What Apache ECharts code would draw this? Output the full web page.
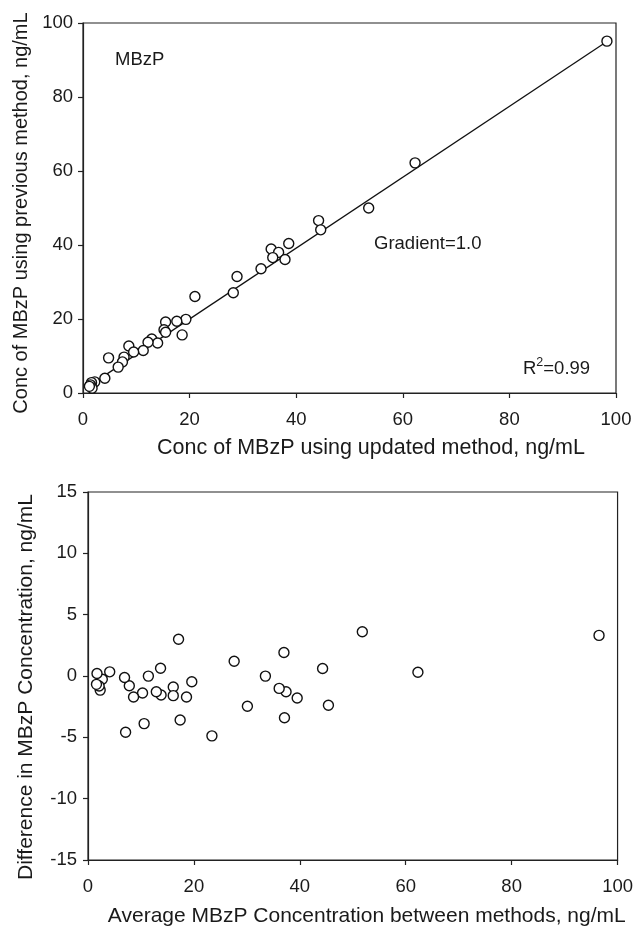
<!DOCTYPE html>
<html>
<head>
<meta charset="utf-8">
<script src="https://cdn.jsdelivr.net/npm/echarts@6/dist/echarts.min.js"></script>
<style>
html,body{margin:0;padding:0;background:#fff;}
#chart{width:636px;height:928px;}
</style>
</head>
<body>
<div id="chart"></div>
<script>
// Top panel: updated method (x) vs previous method (y)
const topX = [98.3,62.3,53.6,44.2,44.6,38.6,35.3,36.7,35.6,37.9,33.4,28.9,28.2,21.0,19.3,17.6,15.5,15.2,15.5,18.6,12.9,14.0,12.2,8.6,11.3,9.5,7.7,7.4,4.8,6.6,4.1,2.2,1.6,1.4,1.7,1.2];
const topY = [95.1,62.2,50.0,46.6,44.1,40.4,38.9,38.0,36.6,36.1,33.6,31.5,27.1,26.1,19.9,19.4,19.2,17.1,16.4,15.7,14.6,13.5,13.7,12.7,11.5,11.1,9.7,8.4,9.5,7.0,4.0,3.0,2.8,2.2,1.3,1.8];
// Regression line endpoints
const fitX = [1.2, 98.3];
const fitY = [2.0, 95.0];
// Bottom panel: average vs difference
const botX = [96.5,62.3,51.8,44.3,45.4,39.5,37.0,37.4,36.1,37.1,33.5,30.1,27.6,23.4,19.6,18.6,17.4,17.1,16.1,16.1,13.7,13.8,12.9,11.4,10.6,10.3,8.6,7.8,6.9,7.1,4.1,2.7,2.3,2.1,1.7,1.6];
const botY = [3.31,0.31,3.61,0.61,-2.39,-1.79,1.92,-1.28,-1.01,-3.40,-0.01,-2.47,1.20,-4.88,-0.47,-1.71,-3.59,2.99,-0.90,-1.60,0.63,-1.55,-1.28,-0.01,-3.88,-1.39,-1.71,-0.79,-0.12,-4.58,0.34,-0.26,-1.15,-0.82,0.20,-0.68];

const titles = {
  topX: 'Conc of MBzP using updated method, ng/mL',
  topY: 'Conc of MBzP using previous method, ng/mL',
  botX: 'Average MBzP Concentration between methods, ng/mL',
  botY: 'Difference in MBzP Concentration, ng/mL'
};

const FONT = "'Liberation Sans', Arial, sans-serif";
const INK = '#1a1a1a';
const TICK_FS = 18.5;
const pair = (xs, ys) => xs.map((x, i) => [x, ys[i]]);

function axisCommon(extra) {
  return Object.assign({
    type: 'value',
    axisLine: { show: true, onZero: false, lineStyle: { color: '#222', width: 1.2 } },
    axisTick: { show: true, inside: false, length: 5, lineStyle: { color: '#222', width: 1.2 } },
    splitLine: { show: false },
    nameLocation: 'middle'
  }, extra);
}

const chart = echarts.init(document.getElementById('chart'), null, { renderer: 'canvas' });
chart.setOption({
  backgroundColor: '#fff',
  animation: false,
  grid: [
    { left: 83, top: 23, width: 533, height: 370, show: true, borderColor: '#222', borderWidth: 1.2, backgroundColor: 'transparent' },
    { left: 88, top: 492, width: 535, height: 370, show: true, borderColor: '#222', borderWidth: 1.2, backgroundColor: 'transparent' }
  ],
  xAxis: [
    axisCommon({ gridIndex: 0, min: 0, max: 100, interval: 20, name: titles.topX, nameGap: 44,
      axisLabel: { color: INK, fontSize: TICK_FS, fontFamily: FONT, margin: 17 },
      nameTextStyle: { color: INK, fontSize: 21.5, fontFamily: FONT, padding: [0, 0, 0, 43] } }),
    axisCommon({ gridIndex: 1, min: 0, max: 100, interval: 20, name: titles.botX, nameGap: 46,
      axisLabel: { color: INK, fontSize: TICK_FS, fontFamily: FONT, margin: 17 },
      nameTextStyle: { color: INK, fontSize: 21, fontFamily: FONT, padding: [0, 0, 0, 28] } })
  ],
  yAxis: [
    axisCommon({ gridIndex: 0, min: 0, max: 100, interval: 20, name: titles.topY, nameGap: 52,
      axisLabel: { color: INK, fontSize: TICK_FS, fontFamily: FONT, margin: 10 },
      nameTextStyle: { color: INK, fontSize: 20, fontFamily: FONT, padding: [0, 10, 0, 0] } }),
    axisCommon({ gridIndex: 1, min: -15, max: 15, interval: 5, name: titles.botY, nameGap: 51,
      axisLabel: { color: INK, fontSize: TICK_FS, fontFamily: FONT, margin: 11 },
      nameTextStyle: { color: INK, fontSize: 21, fontFamily: FONT, padding: [0, 22, 0, 0] } })
  ],
  series: [
    {
      type: 'line', xAxisIndex: 0, yAxisIndex: 0, data: pair(fitX, fitY),
      showSymbol: false, symbol: 'none', z: 2,
      lineStyle: { color: '#111', width: 1.3 }
    },
    {
      type: 'scatter', xAxisIndex: 0, yAxisIndex: 0, data: pair(topX, topY), z: 3,
      symbol: 'circle', symbolSize: 10,
      itemStyle: { color: '#fff', borderColor: '#111', borderWidth: 1.4, opacity: 1 }
    },
    {
      type: 'scatter', xAxisIndex: 1, yAxisIndex: 1, data: pair(botX, botY), z: 3,
      symbol: 'circle', symbolSize: 10,
      itemStyle: { color: '#fff', borderColor: '#111', borderWidth: 1.4, opacity: 1 }
    }
  ],
  graphic: [
    { type: 'text', left: 115, top: 50, style: { text: 'MBzP', fill: INK, font: '18.5px ' + FONT } },
    { type: 'text', left: 374, top: 234, style: { text: 'Gradient=1.0', fill: INK, font: '18.5px ' + FONT } },
    { type: 'text', left: 523, top: 356, style: {
        text: '{a|R}{s|2}{a|=0.99}', fill: INK,
        rich: {
          a: { fontSize: 18.5, fontFamily: FONT, color: INK, verticalAlign: 'bottom', lineHeight: 22 },
          s: { fontSize: 12.5, fontFamily: FONT, color: INK, verticalAlign: 'top', lineHeight: 22, padding: [0, 0, 8, 0] }
        } } }
  ]
});
</script>
</body>
</html>
